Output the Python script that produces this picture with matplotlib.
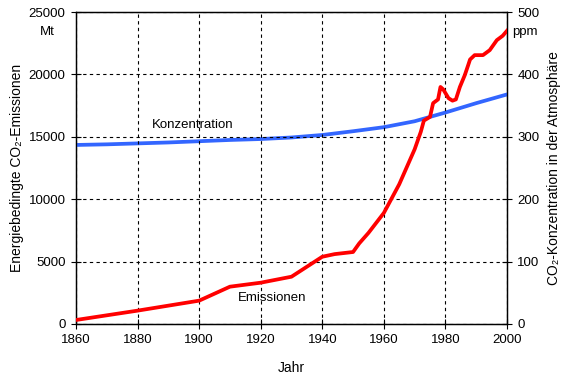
import matplotlib.pyplot as plt

plt.rcParams['font.family'] = ['Liberation Sans', 'DejaVu Sans']

# Energiebedingte CO2-Emissionen (Mt)
em_years = [1860, 1880, 1900, 1910, 1920, 1930, 1940, 1944, 1950, 1952, 1955, 1960,
            1965, 1970, 1972, 1973, 1975, 1976, 1977.6, 1978.4, 1979.3, 1981, 1982.3,
            1983.4, 1984.7, 1986.3, 1987.4, 1988, 1989.5, 1992.2, 1994.4, 1996.7,
            1998.6, 2000]
em_values = [320, 1070, 1870, 2990, 3310, 3790, 5390, 5600, 5770, 6460, 7300, 8900,
             11200, 14000, 15400, 16300, 16600, 17700, 18000, 19000, 18800, 18100, 17900,
             18000, 19000, 19950, 20750, 21200, 21550, 21550, 21950, 22750,
             23100, 23500]

# CO2-Konzentration (ppm)
co_years = [1860, 1870, 1880, 1890, 1900, 1910, 1920, 1930, 1940, 1950, 1960, 1970,
            1980, 1990, 2000]
co_values = [287, 288, 289.5, 291, 293, 295, 296.5, 299, 303, 309, 315.5, 325,
             339, 354, 368]

fig = plt.figure(figsize=(5.69, 3.78), dpi=100)
ax = fig.add_axes([0.1336, 0.1429, 0.7574, 0.8251])
ax2 = ax.twinx()

ax.plot(em_years, em_values, color='#ff0000', lw=2.7, zorder=3)
ax2.plot(co_years, co_values, color='#3366ff', lw=2.7, zorder=3)

ax.set_xlim(1860, 2000)
ax.set_ylim(0, 25000)
ax2.set_ylim(0, 500)
ax.set_xticks(range(1860, 2001, 20))
ax.set_yticks(range(0, 25001, 5000))
ax2.set_yticks(range(0, 501, 100))

ax.grid(True, color='black', linestyle=(0, (3, 3)), linewidth=0.8)
ax.set_axisbelow(True)
ax.set_zorder(ax2.get_zorder() + 1)
ax.patch.set_visible(False)

for a in (ax, ax2):
    a.tick_params(direction='inout', length=7, width=0.8, labelsize=9.5, pad=4)
    for s in a.spines.values():
        s.set_linewidth(0.9)

ax.set_xlabel('Jahr', fontsize=10, labelpad=10.5)
ax.set_ylabel('Energiebedingte CO₂-Emissionen', fontsize=10, labelpad=3)
ax2.set_ylabel('CO₂-Konzentration in der Atmosphäre', fontsize=10, labelpad=5)

fig.text(47 / 569, 1 - 32 / 378, 'Mt', ha='center', va='center', fontsize=9.5)
fig.text(525 / 569, 1 - 32 / 378, 'ppm', ha='center', va='center', fontsize=9.5)
ax.text(1898, 15950, 'Konzentration', ha='center', va='center', fontsize=9.5)
ax.text(1923.6, 2080, 'Emissionen', ha='center', va='center', fontsize=9.5)

fig.savefig('out.png', dpi=100)
